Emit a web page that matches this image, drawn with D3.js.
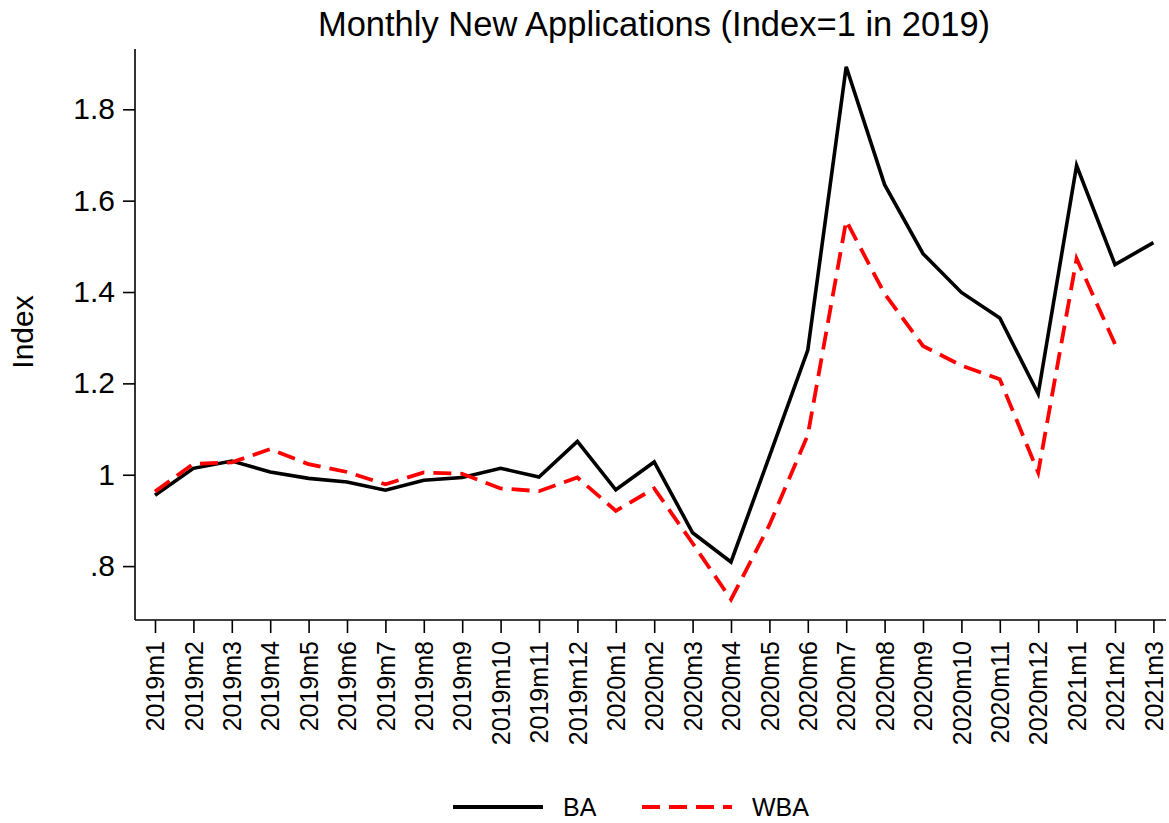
<!DOCTYPE html>
<html>
<head>
<meta charset="utf-8">
<script src="https://cdn.jsdelivr.net/npm/d3@7"></script>
<style>
  body { margin: 0; background: #fff; }
  svg { font-family: "Liberation Sans", Arial, sans-serif; }
  .axis path, .axis line { stroke: #000; stroke-width: 1.6; }
  .axis text { fill: #000; }
</style>
</head>
<body>
<div id="chart"></div>
<script>
let w = 1169, h = 823;
let plotLeft = 135, plotRight = 1166, plotTop = 49, plotBottom = 620;

let months = ["2019m1","2019m2","2019m3","2019m4","2019m5","2019m6","2019m7","2019m8","2019m9",
    "2019m10","2019m11","2019m12","2020m1","2020m2","2020m3","2020m4","2020m5","2020m6",
    "2020m7","2020m8","2020m9","2020m10","2020m11","2020m12","2021m1","2021m2","2021m3"];
let ba = [0.955, 1.014, 1.030, 1.006, 0.992, 0.984, 0.966, 0.988, 0.994, 1.014, 0.995, 1.073,
    0.967, 1.028, 0.873, 0.809, 1.040, 1.273, 1.893, 1.635, 1.484, 1.399, 1.343, 1.177,
    1.677, 1.460, 1.508];
let wba = [0.963, 1.024, 1.027, 1.056, 1.023, 1.006, 0.979, 1.005, 1.002, 0.970, 0.964, 0.994,
    0.921, 0.970, 0.850, 0.727, 0.890, 1.087, 1.556, 1.396, 1.282, 1.239, 1.209, 1.005,
    1.473, 1.286, null];
let yTicks = [0.8, 1.0, 1.2, 1.4, 1.6, 1.8];

let svg = d3.select("#chart").append("svg")
    .attr("width", w)
    .attr("height", h);

let xScale = d3.scalePoint()
    .domain(months)
    .range([155, 1153.4]);
let yScale = d3.scaleLinear()
    .domain([0.682, 1.932])
    .range([plotBottom, plotTop]);

// y axis
let yAxis = svg.append("g")
    .attr("class", "y axis")
    .attr("transform", "translate(" + plotLeft + ",0)")
    .call(d3.axisLeft(yScale)
        .tickValues(yTicks)
        .tickSize(12)
        .tickPadding(8)
        .tickSizeOuter(0)
        .tickFormat((d) => d3.format("~g")(d).replace(/^0\./, ".")));
yAxis.select(".domain").attr("d", "M0," + plotTop + "V" + plotBottom);
yAxis.selectAll("text").attr("font-size", 30);

// x axis
let xAxis = svg.append("g")
    .attr("class", "x axis")
    .attr("transform", "translate(0," + plotBottom + ")")
    .call(d3.axisBottom(xScale).tickSize(13).tickSizeOuter(0));
xAxis.select(".domain").attr("d", "M" + plotLeft + ",0H" + plotRight);
xAxis.selectAll("text")
    .attr("font-size", 25)
    .attr("text-anchor", "end")
    .attr("transform", "translate(0,21) rotate(-90)")
    .attr("x", 0)
    .attr("y", 0)
    .attr("dy", "0.35em");

// lines
let line = d3.line()
    .defined((d) => d.v != null)
    .x((d) => xScale(d.m))
    .y((d) => yScale(d.v));

svg.append("path")
    .datum(months.map((m, i) => ({m: m, v: ba[i]})))
    .attr("fill", "none")
    .attr("stroke", "#000")
    .attr("stroke-width", 3.6)
    .attr("stroke-linejoin", "miter")
    .attr("d", line);

svg.append("path")
    .datum(months.map((m, i) => ({m: m, v: wba[i]})))
    .attr("fill", "none")
    .attr("stroke", "#ff0000")
    .attr("stroke-width", 3.8)
    .attr("stroke-dasharray", "18,9")
    .attr("d", line);

// title and y label
svg.append("text")
    .attr("x", 654)
    .attr("y", 36)
    .attr("text-anchor", "middle")
    .attr("font-size", 34.5)
    .text("Monthly New Applications (Index=1 in 2019)");

svg.append("text")
    .attr("transform", "translate(33,332) rotate(-90)")
    .attr("text-anchor", "middle")
    .attr("font-size", 30)
    .text("Index");

// legend
let legend = svg.append("g").attr("class", "legend");
legend.append("line")
    .attr("x1", 453).attr("x2", 543).attr("y1", 807).attr("y2", 807)
    .attr("stroke", "#000").attr("stroke-width", 4);
legend.append("text")
    .attr("x", 563).attr("y", 816)
    .attr("font-size", 25)
    .text("BA");
legend.append("line")
    .attr("x1", 642).attr("x2", 732).attr("y1", 807).attr("y2", 807)
    .attr("stroke", "#ff0000").attr("stroke-width", 4)
    .attr("stroke-dasharray", "18,9");
legend.append("text")
    .attr("x", 752).attr("y", 816)
    .attr("font-size", 25)
    .text("WBA");
</script>
</body>
</html>
